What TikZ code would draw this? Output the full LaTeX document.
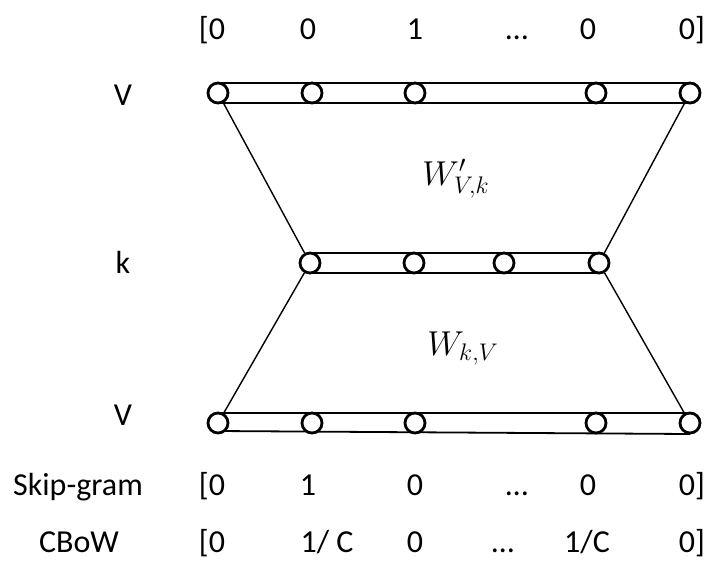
\documentclass[tikz,border=0pt]{standalone}
\usepackage{fontspec}
\setmainfont{Carlito}
\begin{document}
\begin{tikzpicture}[x=.5pt,y=-.5pt,
    unit/.style={circle,draw,line width=1.4pt,fill=white,minimum size=10pt,inner sep=0pt},
    bar/.style={line width=.9pt},
    wire/.style={line width=.7pt},
    lbl/.style={font=\fontsize{16}{19}\selectfont,anchor=base,inner sep=0pt},
    wlbl/.style={font=\fontsize{17}{20}\selectfont,anchor=base,inner sep=0pt}]
        \useasboundingbox (0,0) rectangle (710,568);
        % three layers, bars first so the units sit on top
        \draw[bar] (218,83) rectangle (690,103);
        \draw[bar] (310,253) rectangle (599,273);
        \draw[bar] (218,413) -- (690,413) (218,431) -- (690,434);
        \foreach \x/\n in {218/1,312/2,415/3,596/4,690/5}
        {\node[unit] (top\n) at (\x,93) {};
         \node[unit] (bot\n) at (\x,423) {};}
        \foreach \x/\n in {310/1,414/2,504/3,599/4}
        \node[unit] (mid\n) at (\x,263) {};
        \draw[wire] (top1)--(mid1) (top5)--(mid4) (mid1)--(bot1) (mid4)--(bot5);
        % labels
        \node[lbl] (lv1) at (123,105) {V};
        \node[lbl] (lk) at (123,273) {k};
        \node[lbl] (lv2) at (123,425) {V};
        \node[wlbl] (wout) at (456,185) {$W'_{V,k}$};
        \node[wlbl] (win) at (463,355) {$W_{k,V}$};
        \node[lbl] (skip) at (78,495) {Skip-gram};
        \node[lbl] (cbow) at (79,552) {CBoW};
        \foreach \x/\t/\n in {212/[0/1,308/0/2,415/1/3,517/…/4,588/0/5,692/0]/6}
        \node[lbl] (outv\n) at (\x,39) {\t};
        \foreach \x/\t/\n in {212/[0/1,308/1/2,415/0/3,517/…/4,588/0/5,692/0]/6}
        \node[lbl] (skipv\n) at (\x,495) {\t};
        \foreach \x/\t/\n in {212/[0/1,327/{1/ C}/2,415/0/3,503/…/4,587/{1/C}/5,692/0]/6}
        \node[lbl] (cbowv\n) at (\x,552) {\t};
\end{tikzpicture}
\end{document}
